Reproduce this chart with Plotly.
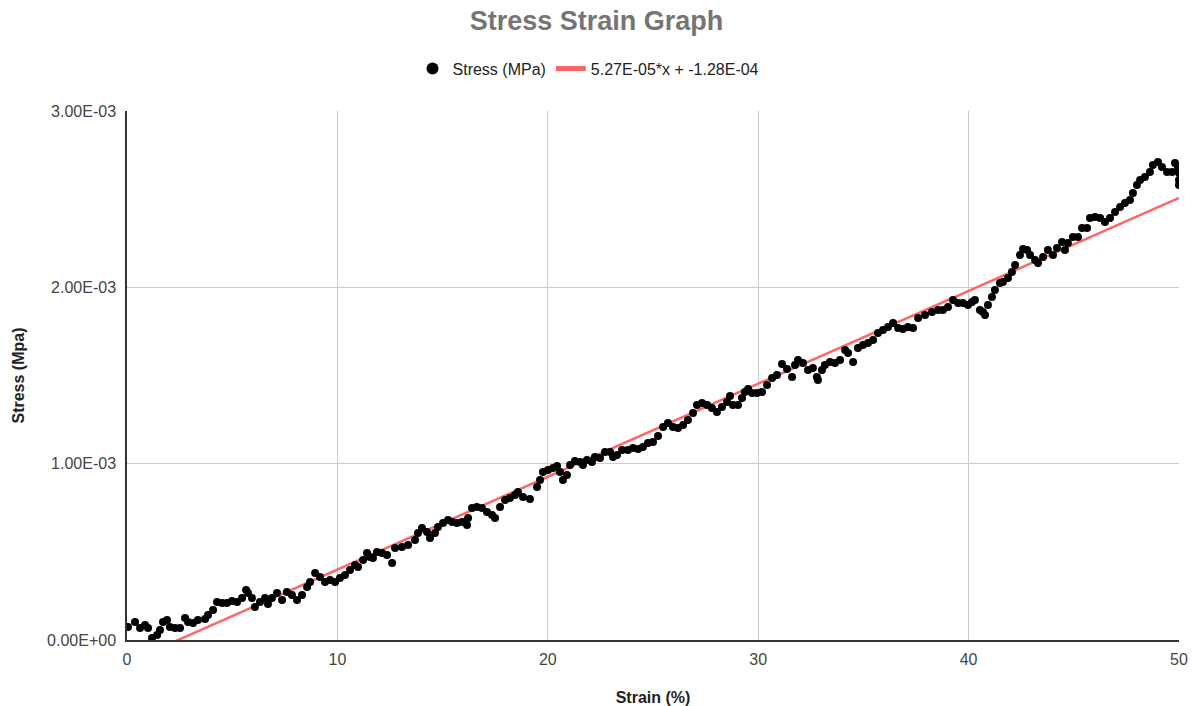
import plotly.graph_objects as go

# Measured strain (%) and stress (MPa)
strain = [
    0.05, 0.38, 0.62, 0.86, 1.00, 1.19, 1.43, 1.57, 1.71, 1.90, 2.04, 2.28, 2.52, 2.76, 2.90,
    3.14, 3.37, 3.71, 3.85, 4.09, 4.28, 4.52, 4.75, 4.99, 5.23, 5.47, 5.66, 5.75, 5.94, 6.08,
    6.32, 6.56, 6.70, 6.89, 7.13, 7.37, 7.60, 7.84, 8.08, 8.32, 8.56, 8.70, 8.94, 9.17, 9.41,
    9.65, 9.89, 10.12, 10.36, 10.60, 10.84, 10.98, 11.22, 11.41, 11.55, 11.69, 11.88, 12.12, 12.36, 12.60,
    12.74, 13.07, 13.36, 13.69, 13.83, 14.02, 14.26, 14.40, 14.64, 14.78, 15.02, 15.26, 15.45, 15.68, 15.92,
    16.16, 16.21, 16.40, 16.63, 16.87, 17.11, 17.35, 17.49, 17.73, 17.97, 18.20, 18.44, 18.58, 18.82, 19.15,
    19.49, 19.63, 19.77, 20.01, 20.25, 20.44, 20.58, 20.72, 20.91, 21.06, 21.29, 21.53, 21.67, 21.86, 22.10,
    22.24, 22.48, 22.72, 22.96, 23.10, 23.29, 23.53, 23.81, 24.05, 24.29, 24.52, 24.76, 25.00, 25.24, 25.48,
    25.71, 25.95, 26.19, 26.43, 26.66, 26.90, 27.09, 27.33, 27.57, 27.80, 28.04, 28.28, 28.52, 28.66, 28.80,
    29.04, 29.23, 29.37, 29.52, 29.71, 29.94, 30.18, 30.42, 30.66, 30.89, 31.13, 31.37, 31.61, 31.75, 31.89,
    32.13, 32.37, 32.60, 32.79, 32.84, 33.03, 33.17, 33.41, 33.65, 33.89, 34.13, 34.27, 34.51, 34.74, 34.98,
    35.22, 35.46, 35.69, 35.93, 36.17, 36.41, 36.65, 36.88, 37.12, 37.36, 37.60, 37.93, 38.26, 38.55, 38.78,
    39.02, 39.26, 39.50, 39.73, 39.97, 40.16, 40.30, 40.54, 40.68, 40.78, 40.92, 41.11, 41.25, 41.49, 41.63,
    41.87, 42.06, 42.21, 42.44, 42.59, 42.78, 42.92, 43.16, 43.30, 43.54, 43.77, 44.01, 44.20, 44.44, 44.58,
    44.72, 44.96, 45.20, 45.39, 45.63, 45.77, 46.01, 46.25, 46.48, 46.72, 46.96, 47.20, 47.43, 47.67, 47.81,
    48.00, 48.15, 48.38, 48.62, 48.76, 49.00, 49.19, 49.43, 49.67, 49.81, 49.95, 50.00, 50.00, 50.00,
]

stress = [
    0.000074, 0.000102, 0.000068, 0.000085, 0.000068, 0.000011, 0.000028, 0.000057, 0.000102, 0.000113,
    0.000074, 0.000068, 0.000068, 0.000125, 0.000102, 0.000096, 0.000113, 0.000119, 0.000142, 0.000170,
    0.000215, 0.000210, 0.000210, 0.000221, 0.000215, 0.000238, 0.000284, 0.000267, 0.000238, 0.000187,
    0.000215, 0.000238, 0.000204, 0.000238, 0.000267, 0.000227, 0.000272, 0.000255, 0.000227, 0.000255,
    0.000301, 0.000329, 0.000380, 0.000357, 0.000329, 0.000340, 0.000329, 0.000352, 0.000369, 0.000397,
    0.000425, 0.000414, 0.000454, 0.000493, 0.000471, 0.000465, 0.000499, 0.000493, 0.000482, 0.000437,
    0.000522, 0.000527, 0.000539, 0.000567, 0.000607, 0.000635, 0.000612, 0.000578, 0.000607, 0.000641,
    0.000664, 0.000681, 0.000669, 0.000664, 0.000669, 0.000652, 0.000692, 0.000749, 0.000754, 0.000749,
    0.000726, 0.000709, 0.000692, 0.000754, 0.000794, 0.000805, 0.000822, 0.000839, 0.000811, 0.000800,
    0.000868, 0.000907, 0.000953, 0.000964, 0.000975, 0.000987, 0.000953, 0.000907, 0.000936, 0.000992,
    0.001015, 0.001009, 0.000992, 0.001021, 0.001009, 0.001038, 0.001032, 0.001066, 0.001066, 0.001038,
    0.001049, 0.001077, 0.001077, 0.001089, 0.001083, 0.001094, 0.001117, 0.001123, 0.001157, 0.001208,
    0.001231, 0.001208, 0.001202, 0.001219, 0.001248, 0.001287, 0.001333, 0.001344, 0.001333, 0.001316,
    0.001293, 0.001321, 0.001350, 0.001384, 0.001333, 0.001333, 0.001372, 0.001406, 0.001423, 0.001401,
    0.001401, 0.001406, 0.001446, 0.001486, 0.001503, 0.001565, 0.001537, 0.001492, 0.001560, 0.001588,
    0.001571, 0.001531, 0.001543, 0.001492, 0.001474, 0.001531, 0.001560, 0.001577, 0.001571, 0.001588,
    0.001645, 0.001628, 0.001577, 0.001656, 0.001673, 0.001684, 0.001701, 0.001741, 0.001758, 0.001775,
    0.001798, 0.001769, 0.001764, 0.001775, 0.001769, 0.001826, 0.001843, 0.001860, 0.001871, 0.001871,
    0.001888, 0.001928, 0.001911, 0.001911, 0.001900, 0.001917, 0.001928, 0.001871, 0.001860, 0.001843,
    0.001900, 0.001945, 0.001985, 0.002025, 0.002030, 0.002053, 0.002087, 0.002127, 0.002183, 0.002217,
    0.002212, 0.002183, 0.002155, 0.002138, 0.002172, 0.002212, 0.002183, 0.002223, 0.002257, 0.002212,
    0.002251, 0.002285, 0.002285, 0.002337, 0.002337, 0.002393, 0.002399, 0.002393, 0.002371, 0.002393,
    0.002427, 0.002456, 0.002478, 0.002495, 0.002535, 0.002580, 0.002609, 0.002626, 0.002654, 0.002694,
    0.002711, 0.002682, 0.002654, 0.002654, 0.002705, 0.002682, 0.002648, 0.002609, 0.002580,
]

# Linear trendline coefficients
slope = 5.27e-05
intercept = -1.28e-04
trend_x = [0, 50]

y_ticks = [0, 0.001, 0.002, 0.003]
y_tick_labels = ["0.00E+00", "1.00E-03", "2.00E-03", "3.00E-03"]
x_ticks = [0, 10, 20, 30, 40, 50]

FONT = "Liberation Sans, Arial, sans-serif"

fig = go.Figure()

fig.add_trace(go.Scatter(
    x=trend_x,
    y=[slope * x + intercept for x in trend_x],
    mode="lines",
    name="5.27E-05*x + -1.28E-04",
    line=dict(color="#ff6666", width=2.5),
    legendrank=2,
    hoverinfo="skip",
))

fig.add_trace(go.Scatter(
    x=strain,
    y=stress,
    mode="markers",
    name="Stress (MPa)",
    marker=dict(color="#000000", size=8),
    legendrank=1,
))

fig.update_layout(
    width=1193,
    height=706,
    paper_bgcolor="white",
    plot_bgcolor="white",
    margin=dict(l=127, r=14, t=111, b=66, autoexpand=False),
    font=dict(family=FONT, size=16, color="#222222"),
    title=dict(
        text="<b>Stress Strain Graph</b>",
        x=0.5, xanchor="center",
        y=0.971, yanchor="middle",
        font=dict(family=FONT, size=27, color="#757575"),
    ),
    legend=dict(
        orientation="h",
        x=0.4387, xanchor="center",
        y=1.08, yanchor="middle",
        font=dict(family=FONT, size=16, color="#222222"),
        itemsizing="constant",
        bgcolor="rgba(0,0,0,0)",
    ),
    showlegend=True,
)

fig.update_xaxes(
    range=[0, 50],
    tickvals=x_ticks,
    automargin=False,
    showgrid=True, gridcolor="#cccccc", gridwidth=1,
    zeroline=False,
    showline=True, linecolor="#333333", linewidth=1.5,
    ticks="",
    ticklabelstandoff=4,
    tickfont=dict(family=FONT, size=16, color="#444444"),
    title=dict(text="<b>Strain (%)</b>", font=dict(family=FONT, size=16, color="#222222"), standoff=28),
)

fig.update_yaxes(
    range=[0, 0.003],
    tickvals=y_ticks,
    ticktext=y_tick_labels,
    automargin=False,
    showgrid=True, gridcolor="#cccccc", gridwidth=1,
    zeroline=False,
    showline=True, linecolor="#333333", linewidth=1.5,
    ticks="",
    ticklabelstandoff=6,
    tickfont=dict(family=FONT, size=16, color="#444444"),
    title=dict(text="<b>Stress (Mpa)</b>", font=dict(family=FONT, size=16, color="#222222"), standoff=18),
)

fig.write_html("out.html")
